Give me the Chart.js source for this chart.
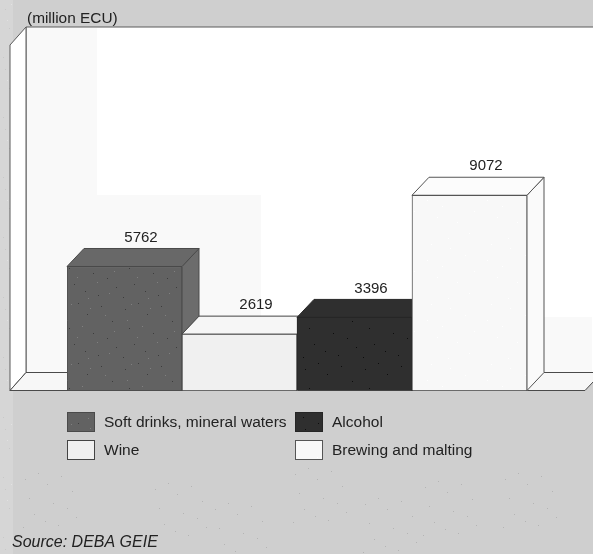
<!DOCTYPE html>
<html>
<head>
<meta charset="utf-8">
<script src="https://cdn.jsdelivr.net/npm/chart.js@4/dist/chart.umd.min.js"></script>
<style>
html, body { margin: 0; padding: 0; background: #cfcfcf; overflow: hidden; }
canvas { display: block; filter: blur(0.4px); }
</style>
</head>
<body>
<canvas id="barChart" width="593" height="554"></canvas>
<script>
const categories = ['Soft drinks, mineral waters', 'Wine', 'Alcohol', 'Brewing and malting']
const values = [5762, 2619, 3396, 9072]
const unitLabel = '(million ECU)'
const sourceLabel = 'Source: DEBA GEIE'

const frontColors = ['#626262', '#f0f0f0', '#2f2f2f', '#f8f8f8']
const topColors = ['#686868', '#f6f6f6', '#2f2f2f', '#fcfcfc']
const sideColors = ['#6c6c6c', '#f6f6f6', '#2f2f2f', '#fafafa']
const edgeColors = ['#4a4a4a', '#444444', '#262626', '#555555']
const depthX = 17
const depthY = 18
const font = '"Liberation Sans", Arial, sans-serif'

// dots for the scanned look, offsets inside one tile
const darkDots = [[5,9],[18,3],[27,14],[41,6],[52,21],[9,28],[33,33],[47,38],[14,44],[25,51],[56,47],[38,55],[3,57]]
const lightDots = [[11,4],[30,8],[45,15],[7,20],[22,26],[54,31],[37,42],[17,37],[49,53],[28,58]]
const groundSpots = [[20,470],[150,480],[290,465],[420,478],[210,500],[360,495],[500,470]]

function speckled(base, dark, light) {
    const tile = document.createElement('canvas')
    tile.width = 60
    tile.height = 60
    const c = tile.getContext('2d')
    c.fillStyle = base
    c.fillRect(0, 0, 60, 60)
    c.fillStyle = dark
    darkDots.forEach(d => c.fillRect(d[0], d[1], 1, 1))
    c.fillStyle = light
    lightDots.forEach(d => c.fillRect(d[0], d[1], 1, 1))
    return c.createPattern(tile, 'repeat')
}

const frontFills = [
    speckled(frontColors[0], '#3c3c3c', '#808080'),
    frontColors[1],
    speckled(frontColors[2], '#0c0c0c', '#2f2f2f'),
    speckled(frontColors[3], '#f8f8f8', '#ffffff'),
]

function poly(ctx, pts, fill, stroke) {
    ctx.beginPath()
    pts.forEach((p, i) => i ? ctx.lineTo(p[0], p[1]) : ctx.moveTo(p[0], p[1]))
    ctx.closePath()
    if (fill) { ctx.fillStyle = fill; ctx.fill() }
    if (stroke) { ctx.strokeStyle = stroke; ctx.lineWidth = 1; ctx.stroke() }
}

const box3d = {
    id: 'box3d',
    beforeDraw(chart) {
        const ctx = chart.ctx
        const base = chart.scales.y.bottom
        const top = 27
        const left = 10
        const right = 585
        ctx.save()
        ctx.fillStyle = '#cfcfcf'
        ctx.fillRect(0, 0, 593, 554)
        // dithered strip on the left of the scan
        ctx.fillStyle = speckled('#d6d6d6', '#c8c8c8', '#e2e2e2')
        ctx.fillRect(0, 0, 13, 554)
        // ground speckle
        ctx.fillStyle = '#b4b4b4'
        for (const d of darkDots) {
            for (const off of groundSpots) {
                ctx.fillRect(d[0] + off[0], d[1] + off[1], 1, 1)
            }
        }
        // back wall, runs off the right edge
        poly(ctx, [[left + 16, top], [620, top], [620, base - depthY], [left + 16, base - depthY]], '#ffffff', '#5a5a5a')
        ctx.fillStyle = '#f9f9f9'
        ctx.fillRect(27, 28, 70, 345)
        ctx.fillRect(97, 195, 164, 178)
        ctx.fillRect(262, 317, 330, 55)
        // left wall
        poly(ctx, [[left, 45], [left + 16, top], [left + 16, base - depthY], [left, base]], '#ffffff', '#5a5a5a')
        // floor
        poly(ctx, [[left, base], [left + 16, base - depthY], [right + 17, base - depthY], [right, base]], '#f7f7f7', '#4a4a4a')
        ctx.restore()
    },
    beforeDatasetsDraw(chart) {
        const ctx = chart.ctx
        ctx.save()
        chart.getDatasetMeta(0).data.forEach((bar, i) => {
            const l = bar.x - bar.width / 2
            const r = bar.x + bar.width / 2
            const t = bar.y
            const b = bar.base
            poly(ctx, [[r, t], [r + depthX, t - depthY], [r + depthX, b - depthY], [r, b]], sideColors[i], edgeColors[i])
            poly(ctx, [[l, t], [l + depthX, t - depthY], [r + depthX, t - depthY], [r, t]], topColors[i], edgeColors[i])
        })
        ctx.restore()
    },
    afterDatasetsDraw(chart) {
        const ctx = chart.ctx
        ctx.save()
        ctx.fillStyle = '#222222'
        ctx.textBaseline = 'middle'
        ctx.font = '15px ' + font
        ctx.textAlign = 'center'
        chart.getDatasetMeta(0).data.forEach((bar, i) => {
            ctx.fillText(String(values[i]), bar.x + depthX - 0.5, bar.y - depthY - 11)
        })
        ctx.textAlign = 'left'
        ctx.font = '15.4px ' + font
        ctx.fillText(unitLabel, 27, 19)
        // two column legend
        const cols = [67, 295]
        const rows = [412, 440]
        categories.forEach((name, i) => {
            const x = cols[i < 2 ? 0 : 1]
            const y = rows[i % 2]
            ctx.fillStyle = frontFills[i]
            ctx.fillRect(x, y, 27, 19)
            ctx.strokeStyle = edgeColors[i]
            ctx.lineWidth = 1
            ctx.strokeRect(x + 0.5, y + 0.5, 27, 19)
            ctx.fillStyle = '#222222'
            ctx.font = '15.5px ' + font
            ctx.fillText(name, x + 37, y + 11)
        })
        ctx.font = 'italic 16px ' + font
        ctx.fillText(sourceLabel, 12, 543)
        ctx.restore()
    }
}

new Chart(document.querySelector('#barChart'), {
    type: 'bar',
    data: {
        labels: categories,
        datasets: [
        {
            label: 'million ECU',
            data: values,
            backgroundColor: frontFills,
            borderColor: edgeColors,
            borderWidth: 1,
            barPercentage: 1,
            categoryPercentage: 1,
        }
        ]
    },
    options: {
        responsive: false,
        animation: false,
        layout: { padding: { left: 67, right: 66, top: 44, bottom: 163.5 } },
        plugins: { legend: { display: false }, tooltip: { enabled: false } },
        scales: {
            x: { display: false },
            y: { display: false, min: 0, max: 16100 }
        }
    },
    plugins: [box3d]
})
</script>
</body>
</html>
